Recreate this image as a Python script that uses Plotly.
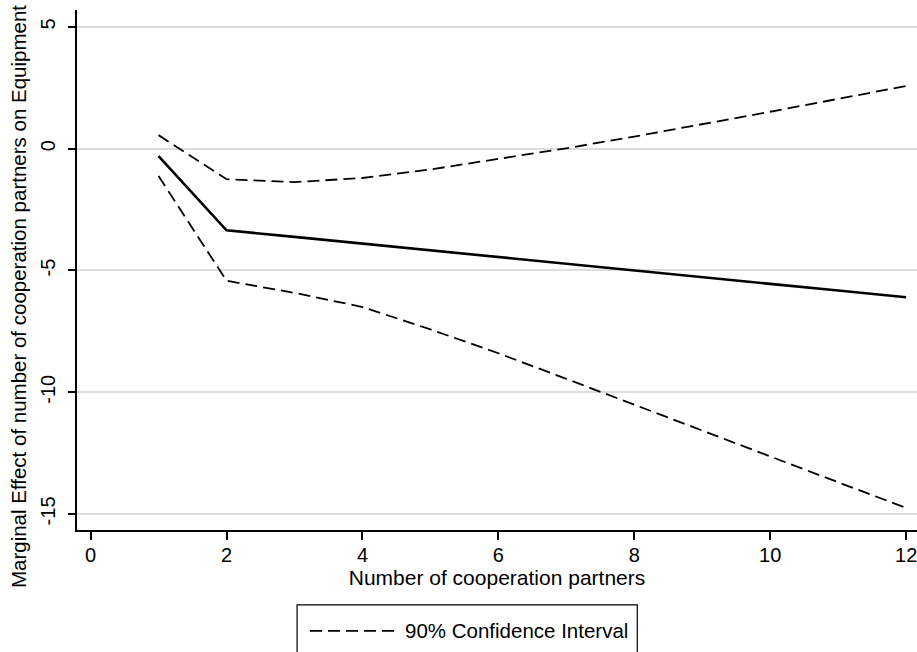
import plotly.graph_objects as go

partners = [1, 2, 3, 4, 5, 6, 7, 8, 9, 10, 11, 12]
marginal_effect = [-0.3, -3.35, -3.62, -3.9, -4.17, -4.45, -4.72, -5.0, -5.27, -5.55, -5.82, -6.1]
ci_upper = [0.56, -1.25, -1.37, -1.2, -0.85, -0.43, 0.02, 0.5, 1.0, 1.52, 2.05, 2.58]
ci_lower = [-1.12, -5.42, -5.92, -6.5, -7.42, -8.4, -9.45, -10.52, -11.58, -12.63, -13.7, -14.75]

x_ticks = [0, 2, 4, 6, 8, 10, 12]
y_ticks = [-15, -10, -5, 0, 5]
legend_label = "90% Confidence Interval"
x_title = "Number of cooperation partners"
y_title = "Marginal Effect of number of cooperation partners on Equipment"

FONT = "Liberation Sans, Arial, sans-serif"
dash_style = "12px,6px"

fig = go.Figure()
fig.add_trace(go.Scatter(x=partners, y=ci_upper, mode="lines",
                         line=dict(color="black", width=1.8, dash=dash_style),
                         showlegend=False))
fig.add_trace(go.Scatter(x=partners, y=ci_lower, mode="lines",
                         line=dict(color="black", width=1.8, dash=dash_style),
                         showlegend=False))
fig.add_trace(go.Scatter(x=partners, y=marginal_effect, mode="lines",
                         line=dict(color="black", width=2.6),
                         showlegend=False))

# Legend box drawn like the Stata legend (paper coordinates)
fig.add_shape(type="rect", xref="paper", yref="paper",
              x0=0.262, x1=0.667, y0=-0.26, y1=-0.144,
              line=dict(color="black", width=1.2), fillcolor="white", layer="above")
fig.add_shape(type="line", xref="paper", yref="paper",
              x0=0.2774, x1=0.3786, y0=-0.194, y1=-0.194,
              line=dict(color="black", width=1.8, dash=dash_style))
fig.add_annotation(xref="paper", yref="paper", x=0.388, y=-0.194,
                   xanchor="left", yanchor="middle", showarrow=False,
                   text=legend_label, font=dict(family=FONT, size=20.5, color="black"))

# Y-axis title (Stata places it slightly lower than the plot-area centre)
fig.add_annotation(xref="paper", yref="paper", x=-0.0702, y=0.448,
                   xanchor="center", yanchor="middle", showarrow=False, textangle=-90,
                   text=y_title, font=dict(family=FONT, size=20.5, color="black"))

fig.update_layout(
    width=917, height=652,
    margin=dict(l=77, r=0, t=10, b=122),
    plot_bgcolor="white", paper_bgcolor="white",
    font=dict(family=FONT, color="black", size=20),
    showlegend=False,
)
fig.update_xaxes(
    range=[-0.2, 12.16], tickvals=x_ticks, ticktext=[str(v) for v in x_ticks],
    automargin=False, ticklabeloverflow="allow",
    showgrid=False, zeroline=False,
    showline=True, linecolor="black", linewidth=1.5,
    ticks="outside", ticklen=8, tickwidth=1.5, tickcolor="black",
    tickfont=dict(family=FONT, size=20), ticklabelstandoff=-2,
    title=dict(text=x_title, font=dict(family=FONT, size=21), standoff=6),
)
fig.update_yaxes(
    range=[-15.66, 5.7], tickvals=y_ticks, ticktext=[str(v) for v in y_ticks],
    tickangle=-90, automargin=False,
    showgrid=True, gridcolor="#dedede", gridwidth=2, zeroline=False,
    showline=True, linecolor="black", linewidth=1.5,
    ticks="outside", ticklen=7, tickwidth=1.5, tickcolor="black",
    tickfont=dict(family=FONT, size=20), ticklabelstandoff=5,
)

fig.write_html("out.html", config={"displayModeBar": False},
               post_script="document.body.style.margin='0px';")
